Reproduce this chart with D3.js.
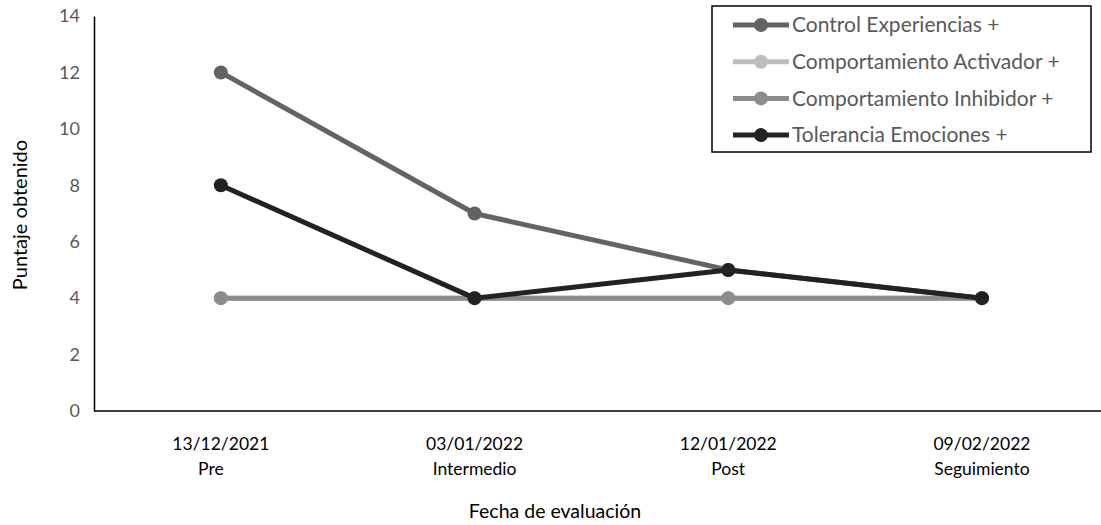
<!DOCTYPE html>
<html>
<head>
<meta charset="utf-8">
<script src="https://cdn.jsdelivr.net/npm/d3@7"></script>
<style>
  html, body { margin: 0; padding: 0; background: #fff; }
  svg { display: block; font-family: Lato, "Open Sans", sans-serif; }
</style>
</head>
<body>
<svg id="chart" width="1101" height="525"></svg>
<script>
// Evaluation dates and phases (two-line tick labels)
const dates  = ["13/12/2021", "03/01/2022", "12/01/2022", "09/02/2022"];
const phases = ["Pre", "Intermedio", "Post", "Seguimiento"];

// Scores per scale
const controlExperiencias     = [12, 7, 5, 4];
const comportamientoActivador = [4, 4, 4, 4];
const comportamientoInhibidor = [4, 4, 4, 4];
const toleranciaEmociones     = [8, 4, 5, 4];

const yTicks = [0, 2, 4, 6, 8, 10, 12, 14];

const series = [
  { name: "Control Experiencias +",     values: controlExperiencias,     color: "#636363" },
  { name: "Comportamiento Activador +", values: comportamientoActivador, color: "#bdbdbd" },
  { name: "Comportamiento Inhibidor +", values: comportamientoInhibidor, color: "#8c8c8c" },
  { name: "Tolerancia Emociones +",     values: toleranciaEmociones,     color: "#222222" }
];

const svg = d3.select("#chart");
const plot = { left: 94, top: 16, bottom: 411, step: 253.7 };

const x = d3.scaleBand()
  .domain(dates)
  .range([plot.left, plot.left + plot.step * dates.length])
  .padding(0);
const cx = d => x(d) + x.bandwidth() / 2;

const y = d3.scaleLinear().domain([0, 14]).range([plot.bottom, plot.top]);

// Y axis
const yAxis = svg.append("g")
  .attr("transform", `translate(${plot.left},0)`)
  .call(d3.axisLeft(y).tickValues(yTicks).tickSize(0).tickPadding(14));
yAxis.select(".domain").attr("stroke", "#000").attr("stroke-width", 1.5);
yAxis.selectAll("text")
  .attr("fill", "#595959")
  .style("font-size", "18px")
  .style("font-family", "Lato, 'Open Sans', sans-serif");

// X axis line
svg.append("line")
  .attr("x1", plot.left).attr("x2", 1101)
  .attr("y1", y(0)).attr("y2", y(0))
  .attr("stroke", "#000").attr("stroke-width", 1.5);

// X tick labels: date and phase
const xl = svg.append("g").attr("class", "x-labels");
dates.forEach((d, i) => {
  const t = xl.append("text")
    .attr("x", cx(d)).attr("text-anchor", "middle")
    .attr("fill", "#000").style("font-size", "17.5px");
  t.append("tspan").attr("x", cx(d)).attr("y", 450).text(d);
  t.append("tspan").attr("x", cx(d) - (i === 0 ? 10 : 0)).attr("y", 475).text(phases[i]);
});

// Axis titles
svg.append("text")
  .attr("x", 555).attr("y", 518)
  .attr("text-anchor", "middle")
  .style("font-size", "19.5px").attr("fill", "#000")
  .text("Fecha de evaluación");

svg.append("text")
  .attr("transform", "translate(27,215) rotate(-90)")
  .attr("text-anchor", "middle")
  .style("font-size", "20px").attr("fill", "#000")
  .text("Puntaje obtenido");

// Lines and markers
const line = d3.line()
  .x((v, i) => cx(dates[i]))
  .y(v => y(v));

series.forEach(s => {
  const g = svg.append("g");
  g.append("path")
    .datum(s.values)
    .attr("d", line)
    .attr("fill", "none")
    .attr("stroke", s.color)
    .attr("stroke-width", 5)
    .attr("stroke-linejoin", "round");
  g.selectAll("circle")
    .data(s.values)
    .join("circle")
    .attr("cx", (v, i) => cx(dates[i]))
    .attr("cy", v => y(v))
    .attr("r", 7)
    .attr("fill", s.color);
});

// Legend
const legend = svg.append("g");
legend.append("rect")
  .attr("x", 712).attr("y", 6)
  .attr("width", 379).attr("height", 146)
  .attr("fill", "#fff").attr("stroke", "#000").attr("stroke-width", 1.5);

series.forEach((s, i) => {
  const ly = 25 + i * 36.7;
  const row = legend.append("g");
  row.append("line")
    .attr("x1", 733).attr("x2", 789)
    .attr("y1", ly).attr("y2", ly)
    .attr("stroke", s.color).attr("stroke-width", 5);
  row.append("circle")
    .attr("cx", 761).attr("cy", ly).attr("r", 7).attr("fill", s.color);
  row.append("text")
    .attr("x", 792).attr("y", ly)
    .attr("dy", "0.35em")
    .attr("fill", "#595959")
    .style("font-size", "21px")
    .text(s.name);
});
</script>
</body>
</html>
